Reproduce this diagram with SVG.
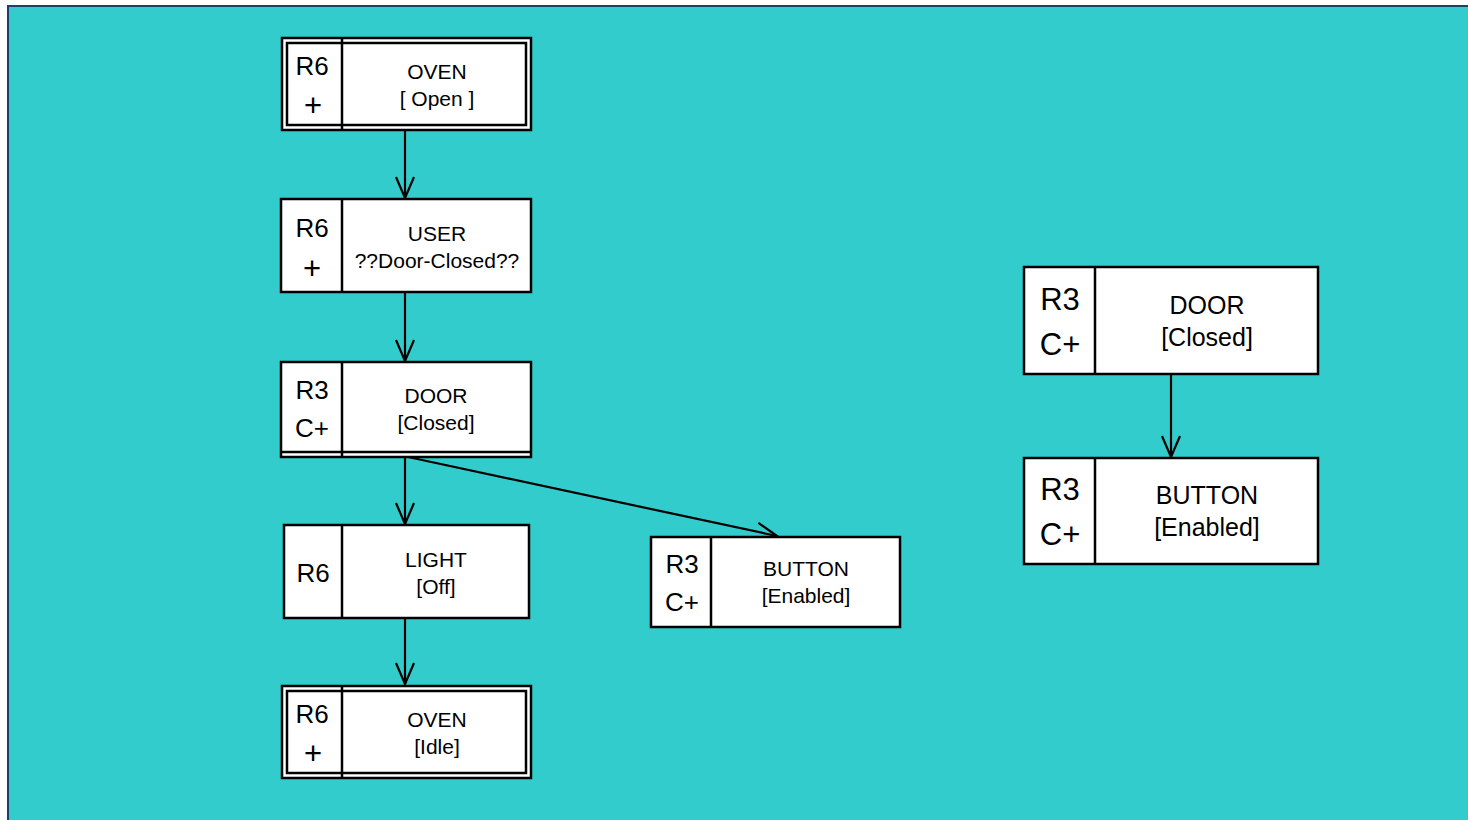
<svg xmlns="http://www.w3.org/2000/svg" width="1468" height="820" viewBox="0 0 1468 820">
<style>
.box{fill:#fff;stroke:#000;stroke-width:2.5}
.ln{fill:none;stroke:#000;stroke-width:2.5}
.t{font-family:"Liberation Sans",Arial,sans-serif;fill:#000;text-anchor:middle}
.s{font-size:21px}
.r{font-size:26px}
.p{font-size:31px}
.S{font-size:25px}
.R{font-size:31px}
.c{fill:none;stroke:#000;stroke-width:2.2}
</style>
<defs>
<marker id="arr" markerUnits="userSpaceOnUse" markerWidth="24" markerHeight="22" viewBox="0 0 24 22" refX="22" refY="11" orient="auto">
<path d="M1,2 L22,11 L1,20" fill="none" stroke="#000" stroke-width="2.2"/>
</marker>
</defs>
<rect x="0" y="0" width="1468" height="820" fill="#fff"/>
<rect x="8" y="6" width="1470" height="830" fill="#33CCCC" stroke="#1E3C6E" stroke-width="2"/>

<g id="connectors">
<line class="c" x1="405" y1="131" x2="405" y2="198" marker-end="url(#arr)"/>
<line class="c" x1="405" y1="292" x2="405" y2="361" marker-end="url(#arr)"/>
<line class="c" x1="405" y1="457" x2="405" y2="524" marker-end="url(#arr)"/>
<line class="c" x1="408" y1="457" x2="777" y2="536" marker-end="url(#arr)"/>
<line class="c" x1="405" y1="618" x2="405" y2="684" marker-end="url(#arr)"/>
<line class="c" x1="1171" y1="374" x2="1171" y2="457" marker-end="url(#arr)"/>
</g>

<g id="oven-open">
<rect class="box" x="282" y="38" width="249" height="92"/>
<rect class="ln" x="287" y="43" width="239" height="82"/>
<line class="ln" x1="342" y1="38" x2="342" y2="130"/>
<text class="t r" x="312" y="75">R6</text>
<text class="t p" x="313" y="116">+</text>
<text class="t s" x="437" y="79">OVEN</text>
<text class="t s" x="437" y="106">[ Open ]</text>
</g>

<g id="user">
<rect class="box" x="281" y="199" width="250" height="93"/>
<line class="ln" x1="342" y1="199" x2="342" y2="292"/>
<text class="t r" x="312" y="237">R6</text>
<text class="t p" x="312" y="279">+</text>
<text class="t s" x="437" y="241">USER</text>
<text class="t s" x="437" y="268">??Door-Closed??</text>
</g>

<g id="door-left">
<rect class="box" x="281" y="362" width="250" height="95"/>
<line class="ln" x1="281" y1="452" x2="531" y2="452"/>
<line class="ln" x1="342" y1="362" x2="342" y2="457"/>
<text class="t r" x="312" y="399">R3</text>
<text class="t r" x="312" y="437">C+</text>
<text class="t s" x="436" y="403">DOOR</text>
<text class="t s" x="436" y="430">[Closed]</text>
</g>

<g id="light">
<rect class="box" x="284" y="525" width="245" height="93"/>
<line class="ln" x1="342" y1="525" x2="342" y2="618"/>
<text class="t r" x="313" y="582">R6</text>
<text class="t s" x="436" y="567">LIGHT</text>
<text class="t s" x="436" y="594">[Off]</text>
</g>

<g id="oven-idle">
<rect class="box" x="282" y="686" width="249" height="92"/>
<rect class="ln" x="287" y="691" width="239" height="82"/>
<line class="ln" x1="342" y1="686" x2="342" y2="778"/>
<text class="t r" x="312" y="723">R6</text>
<text class="t p" x="313" y="764">+</text>
<text class="t s" x="437" y="727">OVEN</text>
<text class="t s" x="437" y="754">[Idle]</text>
</g>

<g id="button-left">
<rect class="box" x="651" y="537" width="249" height="90"/>
<line class="ln" x1="711" y1="537" x2="711" y2="627"/>
<text class="t r" x="682" y="573">R3</text>
<text class="t r" x="682" y="611">C+</text>
<text class="t s" x="806" y="576">BUTTON</text>
<text class="t s" x="806" y="603">[Enabled]</text>
</g>

<g id="door-right">
<rect class="box" x="1024" y="267" width="294" height="107"/>
<line class="ln" x1="1095" y1="267" x2="1095" y2="374"/>
<text class="t R" x="1060" y="310">R3</text>
<text class="t R" x="1060" y="355">C+</text>
<text class="t S" x="1207" y="314">DOOR</text>
<text class="t S" x="1207" y="346">[Closed]</text>
</g>

<g id="button-right">
<rect class="box" x="1024" y="458" width="294" height="106"/>
<line class="ln" x1="1095" y1="458" x2="1095" y2="564"/>
<text class="t R" x="1060" y="500">R3</text>
<text class="t R" x="1060" y="545">C+</text>
<text class="t S" x="1207" y="504">BUTTON</text>
<text class="t S" x="1207" y="536">[Enabled]</text>
</g>
</svg>
